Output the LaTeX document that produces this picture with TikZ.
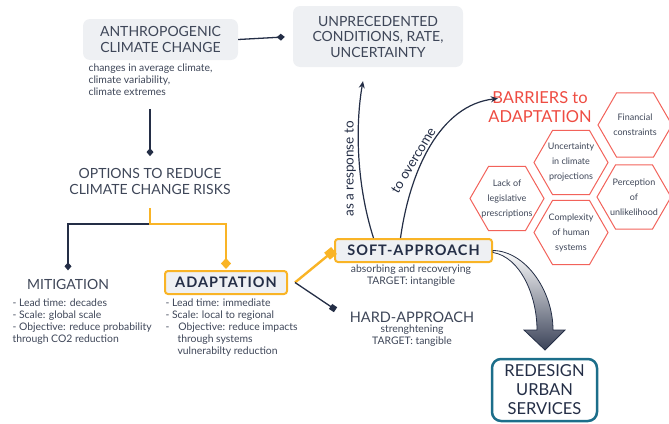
\documentclass[tikz,border=0pt]{standalone}
\usepackage{fontspec}
\setmainfont{Lato}
\newfontfamily\keyfont[LetterSpace=7]{Lato Bold}
\usepackage{xcolor}
\usepackage{tikz}
\usetikzlibrary{positioning}
\usetikzlibrary{arrows.meta}
\usetikzlibrary{calc}
\definecolor{ink}{RGB}{36,46,70}
\definecolor{textgray}{RGB}{62,70,88}
\definecolor{boxgray}{RGB}{238,240,243}
\definecolor{amber}{RGB}{249,180,38}
\definecolor{barred}{RGB}{238,76,66}
\definecolor{hexred}{RGB}{242,98,90}
\definecolor{tealline}{RGB}{28,110,138}
\definecolor{slate}{RGB}{58,66,88}

\begin{document}
\begin{tikzpicture}[x=1pt,y=-1pt,
  head/.style={text=textgray, align=center, font=\fontsize{14}{15.5}\selectfont},
  small/.style={text=textgray, align=left, font=\fontsize{10.4}{12}\selectfont},
  graybox/.style={head, fill=boxgray, rounded corners=7pt},
  keybox/.style={draw=amber, line width=2pt, fill=boxgray, rounded corners=3pt, text=ink, font=\fontsize{14.5}{15}\keyfont},
  link/.style={draw=ink, line width=1.3pt, -{Diamond[length=8pt,width=7pt]}},
  amberlink/.style={draw=amber, line width=2.4pt, -{Diamond[length=11pt,width=10pt]}},
  curvelink/.style={draw=ink, line width=1.2pt, -{Stealth[length=7pt,width=6pt]}},
  curvelbl/.style={text=ink, font=\fontsize{13.5}{14}\selectfont},
  hexline/.style={draw=hexred, line width=1pt},
  hextext/.style={text=textgray, align=center, font=\fontsize{9}{15}\selectfont}
]
\useasboundingbox (0,0) rectangle (669,423);

\node (anthro) at (160.5,39.5) [graybox, minimum width=155pt, minimum height=41pt] {ANTHROPOGENIC\\CLIMATE CHANGE};
\node (anthrosub) at (85,60) [small, anchor=north west] {changes in average climate,\\climate variability,\\climate extremes};
\node (unprec) at (378,36.5) [graybox, minimum width=170pt, minimum height=61pt] {UNPRECEDENTED\\CONDITIONS, RATE,\\UNCERTAINTY};
\draw[link, shorten >=8pt] (anthro.east) -- (unprec.west);

\node (options) at (150,181.5) [head] {OPTIONS TO REDUCE\\CLIMATE CHANGE RISKS};
\draw[link, shorten <=10pt, shorten >=9pt] (anthrosub.south -| options.north) -- (options.north);

\node (mitig) at (68,284) [head] {MITIGATION};
\node (mitigsub) at (9,295) [small, anchor=north west] {- Lead time: decades\\- Scale: global scale\\- Objective: reduce probability\\through CO2 reduction};
\node (adapt) at (226,282.5) [keybox, minimum width=122pt, minimum height=23pt] {ADAPTATION};
\node (adaptsub) at (162,295) [small, anchor=north west] {- Lead time: immediate\\- Scale: local to regional\\-\hspace*{9pt}Objective: reduce impacts\\\hspace*{12pt}through systems\\\hspace*{12pt}vulnerabilty reduction};

\coordinate (fork) at (150,224);
\draw[link, shorten >=5pt] (fork) -| (mitig.north);
\draw[amberlink, shorten <=10pt, shorten >=1pt] (options.south) -- (fork) -| (adapt.north);

\node (soft) at (413.5,250.5) [keybox, minimum width=157pt, minimum height=23pt] {SOFT-APPROACH};
\node (softsub) at (411,276) [small, align=center] {absorbing and recoverying\\TARGET: intangible};
\node (hard) at (412,317) [head, font=\fontsize{14.5}{15.5}\selectfont] {HARD-APPROACH};
\node (hardsub) at (412,335.5) [small, align=center] {strenghtening\\TARGET: tangible};

\coordinate (adaptout) at ([xshift=7pt]adapt.east);
\draw[draw=amber, line width=2.4pt, -{Square[length=9pt,width=9pt]}] (adaptout) -- (soft.west);
\draw[draw=ink, line width=1.3pt, -{Square[length=6pt,width=6pt]}, shorten >=13pt] (adaptout) -- (hard.west);

\node (barriers) at (540,107.5) [text=barred, align=center, font=\fontsize{16.5}{19}\selectfont] {BARRIERS to\\ADAPTATION};
\draw[curvelink] ([xshift=-40pt]soft.north) .. controls (355,180) and (356,120) .. ([xshift=-15pt,yshift=-14pt]unprec.south)
  node[curvelbl, pos=0.4, rotate=90, anchor=south] {as a response to};
\draw[curvelink] ([xshift=-13pt]soft.north) .. controls (410,170) and (440,105) .. ([xshift=13pt,yshift=9pt]barriers.west)
  node[curvelbl, pos=0.38, rotate=59, anchor=south] {to overcome};

\foreach \n/\x/\y/\t in {fin/635/125/{Financial\\constraints},
                         unc/571/162.5/{Uncertainty\\in climate\\projections},
                         lack/507/198.5/{Lack of\\legislative\\prescriptions},
                         comp/571/232.5/{Complexity\\of human\\systems},
                         perc/634/197/{Perception\\of\\unlikelihood}}
{
  \draw[hexline] (\x,\y) +(0:37) -- +(60:37) -- +(120:37) -- +(180:37) -- +(240:37) -- +(300:37) -- cycle;
  \node (\n) at (\x,\y) [hextext] {\t};
}

\node (redesign) at (544.5,390) [draw=tealline, line width=2.5pt, rounded corners=9pt, fill=white, minimum width=105pt, minimum height=62pt, text=ink, align=center, font=\fontsize{16.5}{19}\selectfont] {REDESIGN\\URBAN\\SERVICES};

\shade[top color=white, bottom color=slate, draw=ink, line width=0.8pt]
  (soft.east) .. controls (525,251) and (553,290) .. (553,330) -- (565,330) -- (545,350) -- (524,330) -- (537,330)
  .. controls (537,295) and (520,257) .. ([yshift=-2pt]soft.east) -- cycle;
\end{tikzpicture}
\end{document}
